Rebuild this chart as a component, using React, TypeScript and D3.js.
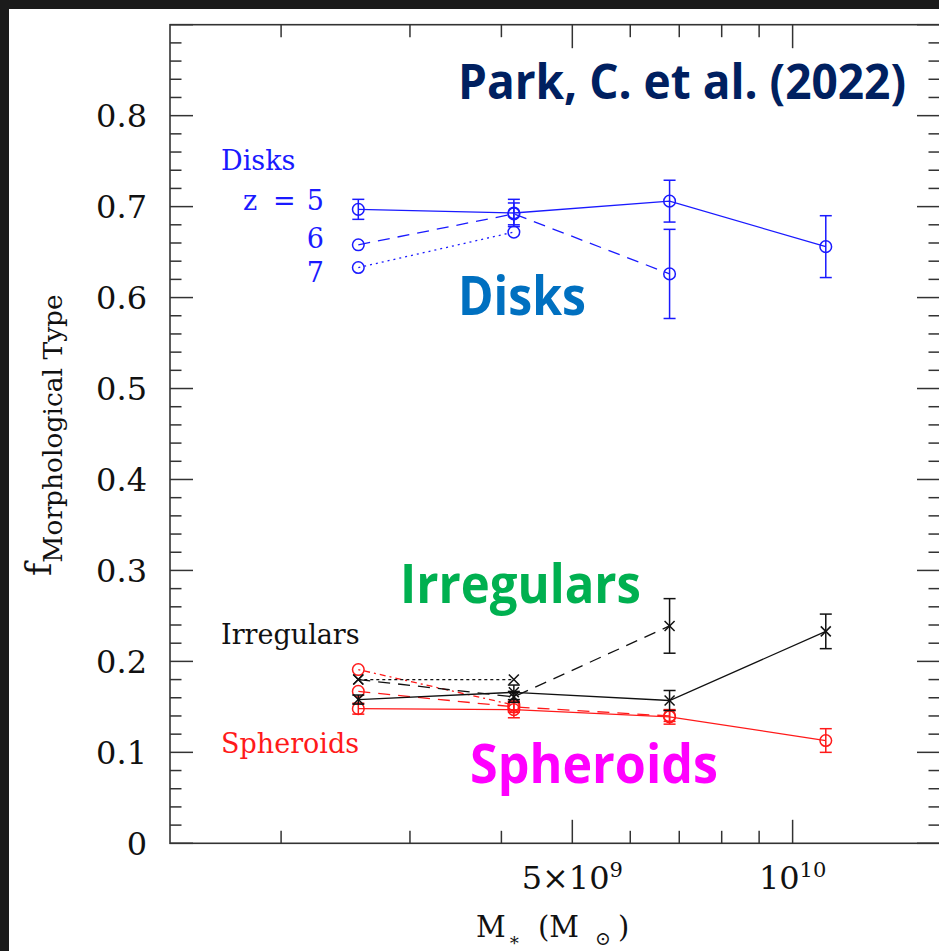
import React from "react";
import * as d3 from "d3";

// Stellar-mass bins (solar masses)
const massBins = [2.55e9, 4.16e9, 6.79e9, 1.11e10];

// Fractions per morphological type and redshift, with 1-sigma errors
const diskZ5 = [0.697, 0.693, 0.706, 0.656];
const diskZ5Err = [0.011, 0.015, 0.023, 0.034];
const diskZ6 = [0.658, 0.692, 0.626];
const diskZ6Err = [0, 0.012, 0.049];
const diskZ7 = [0.633, 0.672];
const diskZ7Err = [0, 0];

const irrZ5 = [0.158, 0.166, 0.157, 0.233];
const irrZ5Err = [0.005, 0.008, 0.011, 0.019];
const irrZ6 = [0.18, 0.161, 0.239];
const irrZ6Err = [0, 0.006, 0.03];
const irrZ7 = [0.18, 0.18];
const irrZ7Err = [0, 0];

const sphZ5 = [0.148, 0.147, 0.139, 0.113];
const sphZ5Err = [0.006, 0.009, 0.008, 0.013];
const sphZ6 = [0.167, 0.15, 0.14];
const sphZ6Err = [0, 0.006, 0.006];
const sphZ7 = [0.191, 0.152];
const sphZ7Err = [0, 0];

const yTickLabels = ["0", "0.1", "0.2", "0.3", "0.4", "0.5", "0.6", "0.7", "0.8"];
const xMinorTicks = [2e9, 3e9, 4e9, 6e9, 7e9, 8e9, 9e9];
const xMajorTicks = [5e9, 1e10];

const W = 939;
const H = 951;
const plot = { left: 170, right: 940, top: 24.7, bottom: 843.3 };

const x = d3.scaleLog().domain([1.41e9, 1.59e10]).range([plot.left, plot.right]);
const y = d3.scaleLinear().domain([0, 0.9]).range([plot.bottom, plot.top]);

const serif = "'DejaVu Serif', serif";
const sans = "'Open Sans', 'Noto Sans', sans-serif";

type Series = {
  vals: number[];
  errs: number[];
  color: string;
  dash: string | undefined;
  marker: "circle" | "cross";
};

const BLUE = "#1a1aff";
const RED = "#ff1a1a";
const BLACK = "#111";

const series: Series[] = [
  { vals: diskZ5, errs: diskZ5Err, color: BLUE, dash: undefined, marker: "circle" },
  { vals: diskZ6, errs: diskZ6Err, color: BLUE, dash: "12,8", marker: "circle" },
  { vals: diskZ7, errs: diskZ7Err, color: BLUE, dash: "2,4", marker: "circle" },
  { vals: sphZ5, errs: sphZ5Err, color: RED, dash: undefined, marker: "circle" },
  { vals: sphZ6, errs: sphZ6Err, color: RED, dash: "12,8", marker: "circle" },
  { vals: sphZ7, errs: sphZ7Err, color: RED, dash: "2,4,6,4", marker: "circle" },
  { vals: irrZ5, errs: irrZ5Err, color: BLACK, dash: undefined, marker: "cross" },
  { vals: irrZ6, errs: irrZ6Err, color: BLACK, dash: "12,8", marker: "cross" },
  { vals: irrZ7, errs: irrZ7Err, color: BLACK, dash: "3,3", marker: "cross" },
];

const line = d3
  .line<[number, number]>()
  .x((d) => x(d[0]))
  .y((d) => y(d[1]));

function SeriesMarks({ s }: { s: Series }) {
  const pts: [number, number][] = s.vals.map((v, i) => [massBins[i], v]);
  return (
    <g>
      <path
        d={line(pts) || ""}
        fill="none"
        stroke={s.color}
        strokeWidth={1.3}
        strokeDasharray={s.dash}
      />
      {pts.map(([m, v], i) => {
        const cx = x(m);
        const cy = y(v);
        const e = s.errs[i];
        return (
          <g key={i} stroke={s.color} strokeWidth={1.5} fill="none">
            {e > 0 && (
              <>
                <line x1={cx} x2={cx} y1={y(v + e)} y2={y(v - e)} />
                <line x1={cx - 6} x2={cx + 6} y1={y(v + e)} y2={y(v + e)} />
                <line x1={cx - 6} x2={cx + 6} y1={y(v - e)} y2={y(v - e)} />
              </>
            )}
            {s.marker === "circle" ? (
              <circle cx={cx} cy={cy} r={5.8} />
            ) : (
              <>
                <line x1={cx - 5} x2={cx + 5} y1={cy - 5} y2={cy + 5} />
                <line x1={cx - 5} x2={cx + 5} y1={cy + 5} y2={cy - 5} />
              </>
            )}
          </g>
        );
      })}
    </g>
  );
}

export default function App() {
  const yMinor = d3.range(0, 0.9001, 0.02);
  const yMajor = d3.range(0, 0.8001, 0.1);
  const axisColor = "#333";
  return (
    <svg
      width={W}
      height={H}
      viewBox={`0 0 ${W} ${H}`}
      style={{ position: "absolute", left: 0, top: 0, display: "block" }}
    >
      <rect x={0} y={0} width={W} height={H} fill="#1b1b1b" />
      <rect x={9} y={9} width={W - 9} height={H - 9} fill="#ffffff" />

      {/* frame */}
      <rect
        x={plot.left}
        y={plot.top}
        width={plot.right - plot.left}
        height={plot.bottom - plot.top}
        fill="none"
        stroke={axisColor}
        strokeWidth={1.6}
      />

      {/* y ticks, left and right */}
      <g stroke={axisColor} strokeWidth={1.5}>
        {yMinor.map((v, i) => {
          const major = i % 5 === 0;
          const len = major ? 23 : 11.5;
          return (
            <g key={i}>
              <line x1={plot.left} x2={plot.left + len} y1={y(v)} y2={y(v)} />
              <line x1={plot.right} x2={plot.right - len} y1={y(v)} y2={y(v)} />
            </g>
          );
        })}
      </g>
      <g fontFamily={serif} fontSize={32} fill="#111" textAnchor="end">
        {yMajor.map((v, i) => (
          <text key={i} x={147} y={y(v) + 11.5}>
            {yTickLabels[i]}
          </text>
        ))}
      </g>

      {/* x ticks, bottom and top */}
      <g stroke={axisColor} strokeWidth={1.5}>
        {xMinorTicks.map((m, i) => (
          <g key={i}>
            <line x1={x(m)} x2={x(m)} y1={plot.bottom} y2={plot.bottom - 12.5} />
            <line x1={x(m)} x2={x(m)} y1={plot.top} y2={plot.top + 12.5} />
          </g>
        ))}
        {xMajorTicks.map((m, i) => (
          <g key={i}>
            <line x1={x(m)} x2={x(m)} y1={plot.bottom} y2={plot.bottom - 23.5} />
            <line x1={x(m)} x2={x(m)} y1={plot.top} y2={plot.top + 23.5} />
          </g>
        ))}
      </g>
      <g fontFamily={serif} fill="#111" textAnchor="middle">
        <text x={x(5e9)} y={889} fontSize={32}>
          5×10<tspan fontSize={21} dy={-12}>9</tspan>
        </text>
        <text x={x(1e10)} y={889} fontSize={32}>
          10<tspan fontSize={21} dy={-12}>10</tspan>
        </text>
      </g>

      {/* axis titles */}
      <g fontFamily={serif} fill="#111">
        <text x={476} y={937} fontSize={29}>M</text>
        <text x={508} y={946} fontSize={18}>∗</text>
        <text x={538} y={937} fontSize={29}>(M</text>
        <text x={595} y={945} fontSize={19}>⊙</text>
        <text x={618} y={937} fontSize={29}>)</text>
        <text transform="translate(51,576) rotate(-90)" fontSize={36}>
          f<tspan fontSize={26.5} dy={11}>Morphological Type</tspan>
        </text>
      </g>

      {/* data */}
      {series.map((s, i) => (
        <SeriesMarks key={i} s={s} />
      ))}

      {/* in-plot legend labels */}
      <g fontFamily={serif} fontSize={27}>
        <text x={221} y={170} fill={BLUE}>Disks</text>
        <text x={243} y={210} fill={BLUE}>z</text>
        <text x={273} y={210} fill={BLUE}>=</text>
        <text x={324} y={210} fill={BLUE} textAnchor="end">5</text>
        <text x={324} y={248} fill={BLUE} textAnchor="end">6</text>
        <text x={324} y={282} fill={BLUE} textAnchor="end">7</text>
        <text x={221} y={644} fill={BLACK}>Irregulars</text>
        <text x={221} y={753} fill={RED}>Spheroids</text>
      </g>

      {/* annotations */}
      <g fontFamily={sans} fontWeight={700}>
        <text x={458} y={99} fontSize={49} fill="#002060" textLength={448} lengthAdjust="spacingAndGlyphs">
          Park, C. et al. (2022)
        </text>
        <text x={458} y={315} fontSize={53} fill="#0070c0" textLength={128} lengthAdjust="spacingAndGlyphs">
          Disks
        </text>
        <text x={400} y={603} fontSize={53} fill="#00b050" textLength={241} lengthAdjust="spacingAndGlyphs">
          Irregulars
        </text>
        <text x={470} y={783} fontSize={53} fill="#ff00ff" textLength={248} lengthAdjust="spacingAndGlyphs">
          Spheroids
        </text>
      </g>
    </svg>
  );
}
